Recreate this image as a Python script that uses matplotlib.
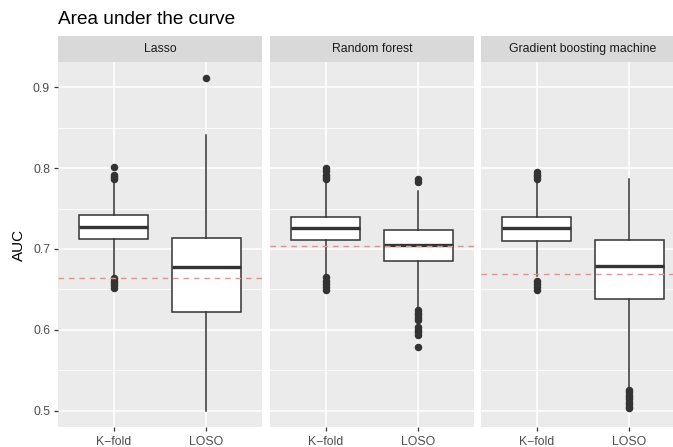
import matplotlib
matplotlib.use("Agg")
import matplotlib.pyplot as plt
import numpy as np

plt.rcParams['font.family'] = ['Liberation Sans', 'DejaVu Sans']

# ---------------- data ----------------
models = ["Lasso", "Random forest", "Gradient boosting machine"]
cv_types = ["K\u2212fold", "LOSO"]

# box statistics per model: [K-fold, LOSO]
q1 = [[0.712, 0.622], [0.711, 0.685], [0.710, 0.638]]
med = [[0.727, 0.678], [0.726, 0.705], [0.7255, 0.679]]
q3 = [[0.742, 0.713], [0.740, 0.7235], [0.740, 0.7107]]
whislo = [[0.668, 0.500], [0.668, 0.628], [0.667, 0.529]]
whishi = [[0.784, 0.841], [0.782, 0.772], [0.784, 0.7867]]

outliers_lasso_kfold = [0.802, 0.791, 0.789, 0.787, 0.664, 0.661, 0.658, 0.655, 0.652]
outliers_lasso_loso = [0.912]
outliers_rf_kfold = [0.800, 0.796, 0.792, 0.789, 0.786, 0.665, 0.661, 0.657, 0.653, 0.649]
outliers_rf_loso = [0.787, 0.783, 0.624, 0.621, 0.618, 0.615, 0.612, 0.604, 0.600, 0.597, 0.594, 0.579]
outliers_gbm_kfold = [0.795, 0.792, 0.790, 0.787, 0.661, 0.657, 0.653, 0.649]
outliers_gbm_loso = [0.526, 0.523, 0.520, 0.517, 0.514, 0.511, 0.508, 0.505, 0.503]

outliers = [[outliers_lasso_kfold, outliers_lasso_loso],
            [outliers_rf_kfold, outliers_rf_loso],
            [outliers_gbm_kfold, outliers_gbm_loso]]

reference_auc = [0.6635, 0.7036, 0.669]

y_ticks = [0.5, 0.6, 0.7, 0.8, 0.9]
y_minor = [0.55, 0.65, 0.75, 0.85]

# ---------------- layout ----------------
W, H = 673, 447
fig = plt.figure(figsize=(W / 100, H / 100), dpi=100)
fig.patch.set_facecolor("white")

panel_left = [58, 270, 481]
panel_w = 204
panel_top = 62
panel_bottom = 427
strip_top = 36

for i, m in enumerate(models):
    ax = fig.add_axes([panel_left[i] / W, 1 - panel_bottom / H,
                       panel_w / W, (panel_bottom - panel_top) / H])
    ax.set_facecolor("#EBEBEB")
    for s in ax.spines.values():
        s.set_visible(False)
    stats = []
    for j in range(2):
        stats.append(dict(q1=q1[i][j], med=med[i][j], q3=q3[i][j],
                          whislo=whislo[i][j], whishi=whishi[i][j],
                          fliers=outliers[i][j]))
    ax.bxp(stats, positions=[1, 2], widths=0.75, patch_artist=True,
           showcaps=False,
           boxprops=dict(facecolor="white", edgecolor="#333333", linewidth=1.1),
           medianprops=dict(color="#333333", linewidth=2.4, solid_capstyle="butt"),
           whiskerprops=dict(color="#333333", linewidth=1.1),
           flierprops=dict(marker="o", markerfacecolor="#333333",
                           markeredgecolor="#333333", markersize=4.4,
                           linestyle="none"),
           zorder=3)
    ax.axhline(reference_auc[i], color="#F48A8A", linewidth=1.0,
               dashes=(4, 3.5), zorder=4)
    ax.set_xlim(0.4, 2.6)
    ax.set_ylim(0.4798, 0.9313)
    ax.set_xticks([1, 2])
    ax.set_xticklabels(cv_types)
    ax.set_yticks(y_ticks)
    ax.set_yticks(y_minor, minor=True)
    ax.set_axisbelow(True)
    ax.grid(True, which="major", color="white", linewidth=1.1)
    ax.grid(True, which="minor", axis="y", color="white", linewidth=0.55)
    ax.tick_params(axis="both", which="major", length=3.2, width=0.9,
                   color="#333333", labelsize=8.8, labelcolor="#4D4D4D", pad=2.5)
    ax.tick_params(axis="x", which="major", pad=3.2)
    ax.tick_params(axis="y", which="minor", length=0)
    if i == 0:
        ax.set_yticklabels([f"{v:.1f}" for v in y_ticks])
    else:
        ax.tick_params(axis="y", which="major", length=0, labelleft=False)

    # strip
    sax = fig.add_axes([panel_left[i] / W, 1 - panel_top / H,
                        panel_w / W, (panel_top - strip_top) / H])
    sax.set_facecolor("#D9D9D9")
    sax.set_xticks([])
    sax.set_yticks([])
    for s in sax.spines.values():
        s.set_visible(False)
    sax.text(0.5, 0.5, m, ha="center", va="center", fontsize=8.8, color="#1A1A1A",
             transform=sax.transAxes)

fig.text(58 / W, 1 - 24 / H, "Area under the curve", fontsize=13.7,
         color="black", ha="left", va="baseline")
fig.text(19 / W, 1 - 245 / H, "AUC", fontsize=11, rotation=90,
         ha="center", va="center", color="black")

fig.savefig("out.png", dpi=100)
